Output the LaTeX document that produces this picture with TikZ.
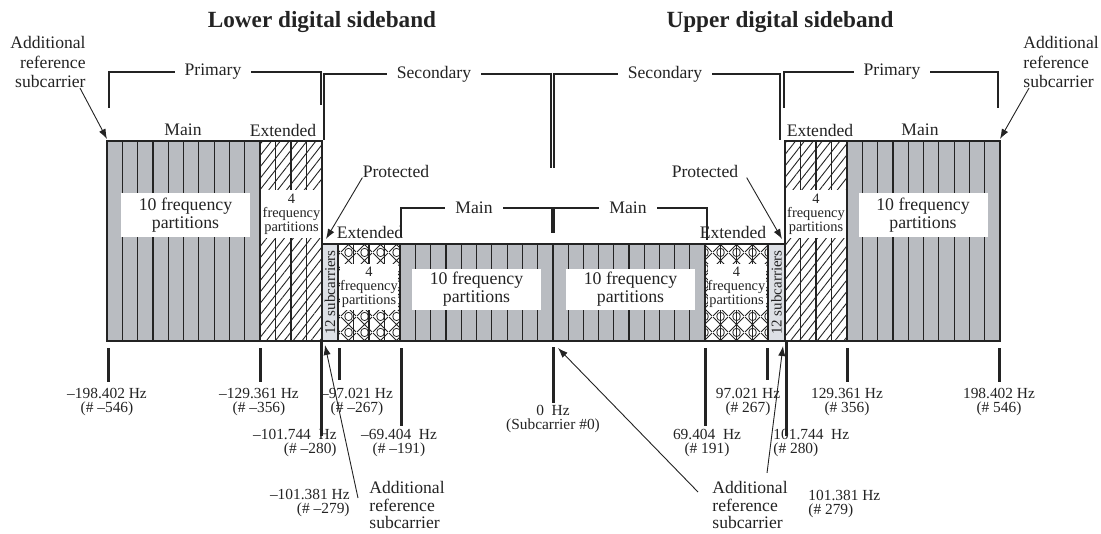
\documentclass[tikz,border=0pt]{standalone}
\usepackage{fontspec}
\setmainfont{Liberation Serif}
\usepackage{xcolor}
\usepackage{tikz}
\usetikzlibrary{arrows.meta,patterns.meta}
\definecolor{bandgray}{RGB}{185,188,193}
\definecolor{protgray}{RGB}{221,224,229}
\definecolor{ink}{RGB}{35,35,35}
\tikzdeclarepattern{name=xohatch,type=uncolored,
  bounding box={(0,0) and (7.75pt,7.75pt)},tile size={(7.75pt,7.75pt)},
  code={\draw[line width=0.45pt] (0,0) -- (7.75pt,7.75pt) (0,7.75pt) -- (7.75pt,0);
        \draw[line width=0.4pt] (3.875pt,0) circle (1.9pt) (3.875pt,7.75pt) circle (1.9pt);}}
\tikzstyle{lbl}=[font=\fontsize{8.8}{9.75}\selectfont,text=ink,inner sep=0pt]
\tikzstyle{head}=[font=\fontsize{11.6}{13}\selectfont\bfseries,text=ink,inner sep=0pt]
\tikzstyle{gaplbl}=[lbl,fill=white,inner xsep=5pt,inner ysep=1pt]
\tikzstyle{hz}=[font=\fontsize{7.7}{7}\selectfont,text=ink,align=center,inner sep=0pt]
\tikzstyle{bigbox}=[fill=white,font=\fontsize{8.9}{9}\selectfont,text=ink,align=center,minimum width=64.5pt,minimum height=22pt,inner sep=0pt]
\tikzstyle{smallbox}=[fill=white,font=\fontsize{7.2}{7}\selectfont,text=ink,align=center,minimum width=30.5pt,minimum height=24pt,inner sep=0pt]
\tikzstyle{subc}=[font=\fontsize{7.5}{8}\selectfont,text=ink,rotate=90,inner sep=0pt]
\tikzstyle{partline}=[draw=ink,line width=0.6pt]
\tikzstyle{bandedge}=[draw=ink,line width=0.9pt]
\tikzstyle{brk}=[draw=ink,line width=0.6pt]
\tikzstyle{hzmark}=[draw=ink,line width=1.5pt]
\tikzstyle{arr}=[draw=ink,line width=0.45pt,-{Latex[length=5pt,width=3.6pt]}]

\begin{document}
\begin{tikzpicture}[x=0.5pt,y=-0.5pt]
        \useasboundingbox (0,0) rectangle (1101,534);
        % spectrum
        \fill[bandgray] (107,141) rectangle (260,341);
        \fill[bandgray] (400,244) rectangle (705,341);
        \fill[bandgray] (847,141) rectangle (1000,341);
        \fill[protgray] (322,244) rectangle (338,341);
        \fill[protgray] (768,244) rectangle (785,341);
        \fill[pattern={Lines[angle=52,distance=3.5pt,line width=0.45pt]},pattern color=ink] (260,141) rectangle (322,341);
        \fill[pattern={Lines[angle=52,distance=3.5pt,line width=0.45pt]},pattern color=ink] (785,141) rectangle (847,341);
        \fill[pattern=xohatch,pattern color=ink] (338,244) rectangle (400,341);
        \fill[pattern=xohatch,pattern color=ink] (705,244) rectangle (768,341);
        \foreach \xa/\xb/\n/\ya in {107/260/10/141,260/322/4/141,338/400/4/244,400/553/10/244,
                                    553/705/10/244,705/768/4/244,785/847/4/141,847/1000/10/141}
          \foreach \k in {1,...,\n}
            \draw[partline] ({\xa+\k*(\xb-\xa)/\n},\ya) -- ({\xa+\k*(\xb-\xa)/\n},341);
        \node at (185.5,215) [bigbox] (lpmain) {10 frequency\\partitions};
        \node at (923,215) [bigbox] (rpmain) {10 frequency\\partitions};
        \node at (476.5,289.5) [bigbox,minimum height=20.5pt] (lsmain) {10 frequency\\partitions};
        \node at (630.5,289.5) [bigbox,minimum height=20.5pt] (rsmain) {10 frequency\\partitions};
        \node at (291.5,214) [smallbox] (lpext) {4\\frequency\\partitions};
        \node at (816,214) [smallbox] (rpext) {4\\frequency\\partitions};
        \node at (369,287) [smallbox,minimum width=29pt,minimum height=23pt] (lsext) {4\\frequency\\partitions};
        \node at (736.5,287) [smallbox,minimum width=29pt,minimum height=23pt] (rsext) {4\\frequency\\partitions};
        \node at (330,292.5) [subc] (lsub) {12 subcarriers};
        \node at (776.5,292.5) [subc] (rsub) {12 subcarriers};
        \draw[bandedge] (107,141) -- (322,141) -- (322,244) -- (785,244) -- (785,141) -- (1000,141)
          -- (1000,341) -- (107,341) -- cycle;
        \foreach \xb/\ya in {260/141,322/244,338/244,400/244,553/244,705/244,768/244,785/244,847/141}
          \draw[bandedge] (\xb,\ya) -- (\xb,341);
        % brackets
        \draw[brk] (109,108) -- (109,72) -- (321,72) -- (321,105);
        \node at (213,72) [gaplbl] (lprim) {Primary};
        \draw[brk] (324,140) -- (324,74) -- (551,74) -- (551,168);
        \node at (434,74) [gaplbl] (lsec) {Secondary};
        \draw[brk] (554,168) -- (554,74) -- (780,74) -- (780,140);
        \node at (665,74) [gaplbl] (rsec) {Secondary};
        \draw[brk] (784,108) -- (784,72) -- (998,72) -- (998,108);
        \node at (892,72) [gaplbl] (rprim) {Primary};
        \draw[brk] (401,237) -- (401,208) -- (552,208) -- (552,233);
        \node at (474,208) [gaplbl] (lmainb) {Main};
        \draw[brk] (554,233) -- (554,208) -- (707,208) -- (707,240);
        \node at (628,208) [gaplbl] (rmainb) {Main};
        % labels
        \node at (322,22) [head] (lower) {Lower digital sideband};
        \node at (780,22) [head] (upper) {Upper digital sideband};
        \node at (183,130) [lbl] (lpmn) {Main};
        \node at (283,130) [lbl] (lpex) {Extended};
        \node at (820,130) [lbl] (rpex) {Extended};
        \node at (920,130) [lbl] (rpmn) {Main};
        \node at (370,232) [lbl] (lsex) {Extended};
        \node at (733,232) [lbl] (rsex) {Extended};
        \node at (396,171) [lbl] (lprot) {Protected};
        \node at (705,171) [lbl] (rprot) {Protected};
        \node at (86,62) [lbl,anchor=east,align=right] (laddref) {Additional\\reference\\subcarrier};
        \node at (1023,62) [lbl,anchor=west,align=left] (raddref) {Additional\\reference\\subcarrier};
        \coordinate (laddtip) at (107,139);
        \coordinate (raddtip) at (1000,139);
        \coordinate (lprottip) at (326,239);
        \coordinate (rprottip) at (782,239);
        \draw[arr] ([xshift=-3pt]laddref.south east) -- (laddtip);
        \draw[arr] ([xshift=3pt]raddref.south west) -- (raddtip);
        \draw[arr] (lprot.south west) -- (lprottip);
        \draw[arr] ([xshift=4pt]rprot.south east) -- (rprottip);
        % frequency marks
        \foreach \xt/\ya/\yb in {108/348/382,260/348/382,321/342/436,339/348/380,401/348/426,553/347/403,
                                 705/348/426,767/348/380,786/342/436,847/348/382,999/348/382}
          \draw[hzmark] (\xt,\ya) -- (\xt,\yb);
        \node at (107,402) [hz] (fa) {–198.402 Hz\\(\# –546)};
        \node at (259,402) [hz] (fb) {–129.361 Hz\\(\# –356)};
        \node at (357,402) [hz] (fc) {–97.021 Hz\\(\# –267)};
        \node at (337,443) [hz,anchor=east,align=right] (fd) {–101.744~~Hz\\(\# –280)};
        \node at (399,443) [hz] (fe) {–69.404~~Hz\\(\# –191)};
        \node at (350,503) [hz,anchor=east,align=right] (ff) {–101.381 Hz\\(\# –279)};
        \node at (553,419) [hz] (fg) {0~~Hz\\(Subcarrier \#0)};
        \node at (707,443) [hz] (fh) {69.404~~Hz\\(\# 191)};
        \node at (748,402) [hz] (fi) {97.021 Hz\\(\# 267)};
        \node at (773,443) [hz,anchor=west,align=left] (fj) {101.744~~Hz\\(\# 280)};
        \node at (847,402) [hz] (fk) {129.361 Hz\\(\# 356)};
        \node at (999,402) [hz] (fl) {198.402 Hz\\(\# 546)};
        \node at (808,504) [hz,anchor=west,align=left] (fm) {101.381 Hz\\(\# 279)};
        \node at (369,505) [lbl,anchor=west,align=left,font=\fontsize{8.8}{8.8}\selectfont] (baddl) {Additional\\reference\\subcarrier};
        \node at (712,505) [lbl,anchor=west,align=left,font=\fontsize{8.8}{8.8}\selectfont] (baddr) {Additional\\reference\\subcarrier};
        \coordinate (baddltip) at (325,345);
        \coordinate (zerotip) at (558,348);
        \coordinate (baddrtip) at (783,346);
        \draw[arr] ([shift={(-11,-7)}]baddl.west) -- (baddltip);
        \draw[arr] ([shift={(-14,-13)}]baddr.west) -- (zerotip);
        \draw[arr] ([shift={(17,-8)}]baddr.north) -- (baddrtip);
      \end{tikzpicture}
\end{document}
